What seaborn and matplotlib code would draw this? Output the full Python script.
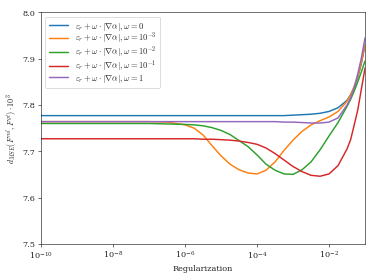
import numpy as np
import pandas as pd
import matplotlib
matplotlib.use("Agg")
import matplotlib.pyplot as plt
import seaborn as sns

# ==============================================================
# Datos (log10 de la regularizacion)
# ==============================================================

log_reg = [-10, -9, -8, -7, -6.5, -6, -5.75, -5.5, -5.25, -5, -4.75, -4.5, -4.25,
           -4, -3.75, -3.5, -3.25, -3, -2.75, -2.5, -2.25, -2, -1.75, -1.5,
           -1.4, -1.3, -1.2, -1.1, -1.0]

omega_0 = [7.777, 7.777, 7.777, 7.777, 7.777, 7.777, 7.777, 7.777, 7.777, 7.777, 7.777, 7.777, 7.777,
           7.777, 7.777, 7.777, 7.777, 7.778, 7.779, 7.780, 7.782, 7.786, 7.794, 7.810,
           7.822, 7.838, 7.860, 7.890, 7.930]
omega_1e3 = [7.764, 7.764, 7.764, 7.764, 7.763, 7.757, 7.750, 7.735, 7.712, 7.690, 7.672, 7.660, 7.653,
             7.651, 7.659, 7.677, 7.702, 7.724, 7.743, 7.757, 7.766, 7.774, 7.786, 7.808,
             7.822, 7.840, 7.862, 7.892, 7.930]
omega_1e2 = [7.760, 7.760, 7.760, 7.760, 7.759, 7.758, 7.757, 7.755, 7.751, 7.745, 7.736, 7.723, 7.710,
             7.692, 7.672, 7.659, 7.651, 7.650, 7.660, 7.677, 7.703, 7.733, 7.762, 7.797,
             7.812, 7.830, 7.850, 7.872, 7.895]
omega_1e1 = [7.727, 7.727, 7.727, 7.727, 7.727, 7.727, 7.727, 7.726, 7.726, 7.725, 7.724, 7.722, 7.719,
             7.715, 7.707, 7.695, 7.681, 7.667, 7.656, 7.648, 7.646, 7.651, 7.669, 7.705,
             7.725, 7.757, 7.790, 7.835, 7.880]
omega_1 = [7.764, 7.764, 7.764, 7.764, 7.764, 7.764, 7.764, 7.764, 7.764, 7.764, 7.764, 7.764, 7.764,
           7.764, 7.764, 7.764, 7.763, 7.763, 7.762, 7.761, 7.761, 7.763, 7.772, 7.800,
           7.815, 7.838, 7.868, 7.902, 7.945]

etiquetas = [r'$\varepsilon_r + \omega \cdot |\nabla\alpha|, \omega = 0$',
             r'$\varepsilon_r + \omega \cdot |\nabla\alpha|, \omega = 10^{-3}$',
             r'$\varepsilon_r + \omega \cdot |\nabla\alpha|, \omega = 10^{-2}$',
             r'$\varepsilon_r + \omega \cdot |\nabla\alpha|, \omega = 10^{-1}$',
             r'$\varepsilon_r + \omega \cdot |\nabla\alpha|, \omega = 1$']
series = [omega_0, omega_1e3, omega_1e2, omega_1e1, omega_1]

# ==============================================================
# Tabla larga para seaborn
# ==============================================================

filas = []
for etiqueta, valores in zip(etiquetas, series):
    for lx, v in zip(log_reg, valores):
        filas.append({'reg': 10.0 ** lx, 'valor': v, 'serie': etiqueta})
df = pd.DataFrame(filas)

# ==============================================================
# Grafico
# ==============================================================

sns.set_style("ticks")
plt.rcParams['font.family'] = 'serif'
plt.rcParams['font.serif'] = ['DejaVu Serif']
plt.rcParams['mathtext.fontset'] = 'cm'

fig, ax = plt.subplots(figsize=(6.4, 4.8), dpi=374 / 6.4)
sns.lineplot(data=df, x='reg', y='valor', hue='serie', hue_order=etiquetas,
             palette='tab10', linewidth=1.8, ax=ax)

ax.set_xscale('log')
ax.set_xlim(1e-10, 1e-1)
ax.set_ylim(7.5, 8.0)
ax.set_yticks([7.5, 7.6, 7.7, 7.8, 7.9, 8.0])
ax.set_xticks([1e-10, 1e-8, 1e-6, 1e-4, 1e-2])
ax.minorticks_off()
ax.set_xlabel('Regularization')
ax.set_ylabel(r'$d_{MSE}(F^{ml}, F^{gt}) \cdot 10^3$')
ax.legend(title=None, loc='upper left', fontsize=10.5, labelspacing=-0.15,
          handlelength=2.3)

fig.subplots_adjust(left=0.11, right=0.976, top=0.954, bottom=0.129)
plt.savefig('out.png', dpi=374 / 6.4)
